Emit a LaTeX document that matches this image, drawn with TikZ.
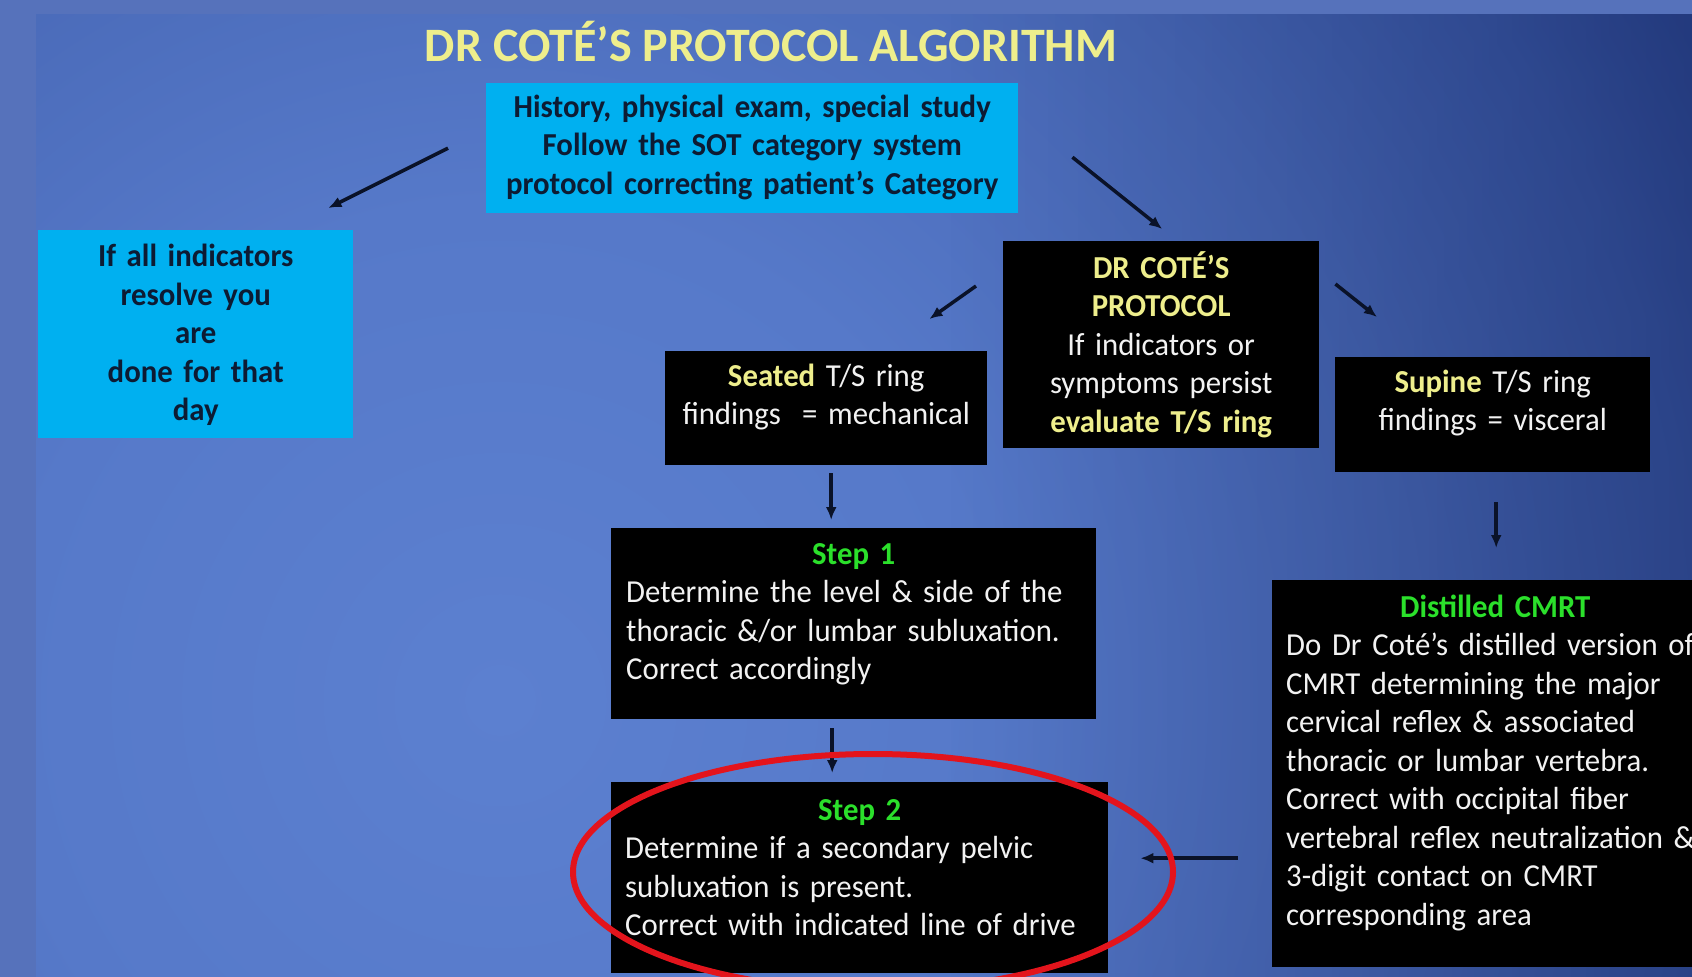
\documentclass[tikz,border=0pt]{standalone}
\usepackage{fontspec}
\setmainfont{Carlito}[FakeStretch=0.962]
\newfontfamily\titlefont{Carlito}
\usetikzlibrary{arrows.meta,calc,fadings}

% palette
\definecolor{frameblue}{HTML}{5672BB}
\definecolor{glowA}{HTML}{5C80D0}
\definecolor{glowB}{HTML}{5679C9}
\definecolor{glowC}{HTML}{4868B6}
\definecolor{glowD}{HTML}{3A58A6}
\definecolor{glowE}{HTML}{2A4490}
\definecolor{glowF}{HTML}{1C2F6E}
\definecolor{deepnavy}{HTML}{14245A}
\definecolor{boxcyan}{HTML}{00B0F0}
\definecolor{inkblue}{HTML}{0D1B33}
\definecolor{paleyellow}{HTML}{EEEE8C}
\definecolor{stepgreen}{HTML}{2BE02B}
\definecolor{softwhite}{HTML}{F2F2F2}
\definecolor{arrowink}{HTML}{0A1228}
\definecolor{markred}{HTML}{E3141C}

% slide background glow (1bp of the shading = 50pt of the slide)
\pgfdeclareradialshading{slideglow}{\pgfpoint{0bp}{0bp}}{%
  color(0bp)=(glowA); color(7bp)=(glowB); color(13bp)=(glowC);
  color(17bp)=(glowD); color(20bp)=(glowE); color(23bp)=(glowF);
  color(50bp)=(glowF)}

\newcommand\hiword[1]{{\color{paleyellow}\bfseries #1}}
\newcommand\stephead[2]{\makebox[#1][c]{\color{stepgreen}\bfseries #2}}

\begin{document}
\begin{tikzpicture}[x=1pt,y=-1pt,
  panel/.style n args={3}{anchor=north west, inner ysep=0pt,
    text width=#1, text height=#2, text depth=#3},
  cyanpanel/.style={fill=boxcyan, text=inkblue, inner xsep=0pt, align=center,
    font=\fontsize{32}{38.5}\selectfont\bfseries},
  darkpanel/.style={fill=black, text=softwhite, inner xsep=0pt, align=center,
    font=\fontsize{32}{38.5}\selectfont},
  steppanel/.style={fill=black, text=softwhite, align=left,
    font=\fontsize{32}{38.5}\selectfont},
  flow/.style={draw=arrowink, line width=3.5pt, -{Latex[length=13pt,width=11pt]}},
  heading/.style={text=paleyellow, font=\titlefont\fontsize{48}{56}\selectfont\bfseries, anchor=base}
]
\useasboundingbox (0,0) rectangle (1692,977);
\clip (0,0) rectangle (1692,977);

% frame and slide
\fill[frameblue] (0,0) rectangle (1692,977);
\begin{scope}
  \clip (36,14) rectangle (1692,977);
  \shade[shading=slideglow] (500,700) circle [radius=1768];
  % deeper navy towards the right-hand edge
  \fill[deepnavy, path fading=west, fill opacity=0.5] (950,14) rectangle (1900,977);
\end{scope}

\node[heading] (title) at (771,61) {DR COTÉ’S PROTOCOL ALGORITHM};

% boxes
\node[cyanpanel, panel={532pt}{34pt}{96pt}] (hist) at (486,83)
  {History, physical exam, special study\\
   Follow the SOT category system\\
   protocol correcting patient’s Category};

\node[cyanpanel, panel={315pt}{36.5pt}{171.5pt}] (done) at (38,230)
  {If all indicators\\ resolve you\\ are\\ done for that\\ day};

\node[darkpanel, panel={316pt}{37pt}{170pt}] (proto) at (1003,241)
  {\hiword{DR COTÉ’S}\\ \hiword{PROTOCOL}\\ If indicators or\\
   symptoms persist\\ \hiword{evaluate T/S ring}};

\node[darkpanel, panel={322pt}{35pt}{79pt}] (seated) at (665,351)
  {\hiword{Seated} T/S ring\\ findings\ \ = mechanical};

\node[darkpanel, panel={315pt}{35pt}{80pt}] (supine) at (1335,357)
  {\hiword{Supine} T/S ring\\ findings = visceral};

\node[steppanel, inner xsep=15pt, panel={455pt}{36pt}{155pt}] (stepone) at (611,528)
  {\stephead{\linewidth}{Step 1}\\
   Determine the level \& side of the\\
   thoracic \&/or lumbar subluxation.\\
   Correct accordingly};

\node[steppanel, inner xsep=14pt, panel={469pt}{38pt}{153pt}] (steptwo) at (611,782)
  {\stephead{\linewidth}{Step 2}\\
   Determine if a secondary pelvic\\
   subluxation is present.\\
   Correct with indicated line of drive};

\node[steppanel, inner xsep=14pt, panel={440pt}{37pt}{350pt}] (cmrt) at (1272,580)
  {\stephead{418pt}{Distilled CMRT}\\
   Do Dr Coté’s distilled version of\\
   CMRT determining the major\\
   cervical reflex \& associated\\
   thoracic or lumbar vertebra.\\
   Correct with occipital fiber\\
   vertebral reflex neutralization \&\\
   3-digit contact on CMRT\\
   corresponding area};

% connectors
\draw[flow] ($(hist.west)+(-38,0)$) -- ($(done.north east)+(-25,-22)$);
\draw[flow] ($(hist.east)+(54,9)$) -- ($(proto.north)+(1,-12)$);
\draw[flow] ($(proto.north west)+(-27,45)$) -- ($(seated.north east)+(-58,-32)$);
\draw[flow] ($(proto.north east)+(16,43)$) -- ($(supine.north west)+(42,-40)$);
\draw[flow] ($(seated.south)+(5,8)$) -- ($(seated.south |- stepone.north)+(5,-8)$);
\draw[flow] ($(supine.south)+(3.5,30)$) -- ($(supine.south |- cmrt.north)+(3.5,-32)$);
\draw[flow] ($(stepone.south)+(-21.5,9)$) -- ($(stepone.south |- steptwo.north)+(-21.5,-9)$);
\coordinate (cmrtout) at ($(cmrt.west)+(-34,84.5)$);
\draw[flow] (cmrtout) -- ($(cmrtout -| steptwo.east)+(32,0)$);

% highlight ring around step 2
\draw[markred, line width=6pt] (873,872) ellipse [x radius=300, y radius=118];
\end{tikzpicture}
\end{document}
